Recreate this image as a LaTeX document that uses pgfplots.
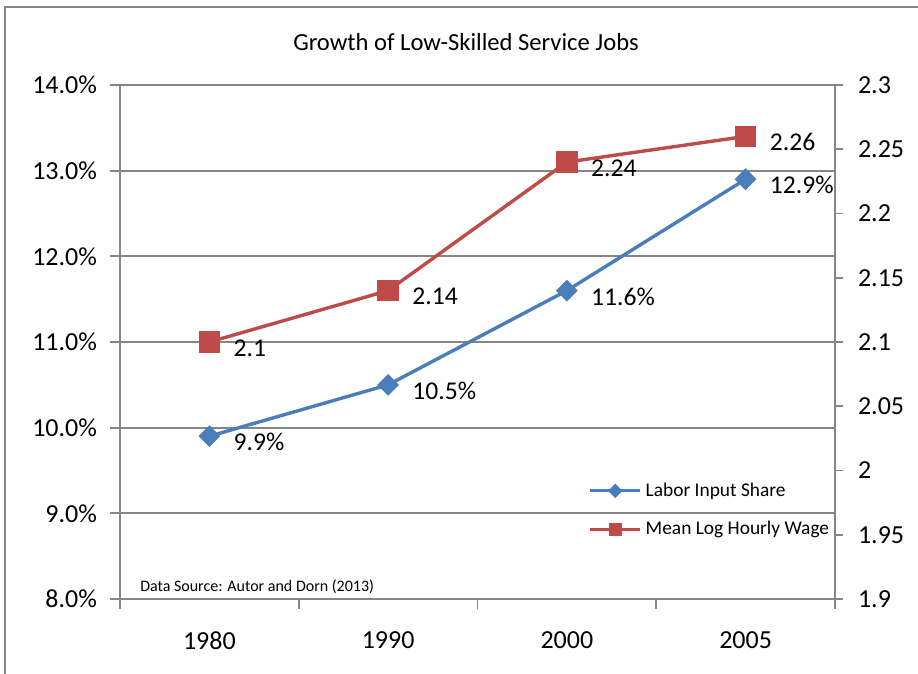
\documentclass[border=0pt]{standalone}
\usepackage{pgfplots}
\pgfplotsset{compat=1.18}
\usepackage{fontspec}
\setmainfont{Carlito}
\definecolor{gridgray}{HTML}{868686}
\definecolor{blueS}{HTML}{4A7EBB}
\definecolor{redS}{HTML}{BE4B48}
\begin{document}
\begin{tikzpicture}
\useasboundingbox (0,0) rectangle (459pt,337pt);
\draw[gridgray, line width=0.8pt] (2.5pt,0) -- (2.5pt,333.5pt) -- (459pt,333.5pt);
\node[font=\fontsize{12.3}{14}\selectfont] at (233pt,316pt) {Growth of Low-Skilled Service Jobs};
\begin{axis}[
  at={(60pt,37.5pt)}, anchor=south west, scale only axis,
  width=357.5pt, height=257pt,
  xmin=-0.5, xmax=3.5, ymin=8, ymax=14,
  axis x line*=bottom, axis y line*=left,
  axis line style={-, gridgray, line width=0.9pt},
  ytick={8,9,10,11,12,13,14},
  yticklabels={8.0\%,9.0\%,10.0\%,11.0\%,12.0\%,13.0\%,14.0\%},
  ymajorgrids, grid style={gridgray, line width=0.9pt},
  tick align=outside, major tick length=5pt, minor tick length=5pt,
  tick style={gridgray, line width=0.9pt},
  xtick={0,1,2,3}, xticklabels={1980,1990,2000,2005},
  major x tick style={draw=none},
  minor xtick={-0.5,0.5,1.5,2.5,3.5},
  ticklabel style={font=\fontsize{13}{15}\selectfont, text=black},
  xticklabel style={yshift=-8pt},
  yticklabel style={xshift=-3pt},
  clip=false,
]
\addplot[blueS, line width=1.7pt, mark=square*, mark size=3pt, mark options={rotate=45, fill=blueS},
  point meta=explicit symbolic, nodes near coords,
  nodes near coords style={anchor=west, xshift=8pt, yshift=-3pt, font=\fontsize{12.8}{14}\selectfont, text=black}]
  coordinates {(0,9.9) [9.9\%] (1,10.5) [10.5\%] (2,11.6) [11.6\%] (3,12.9) [12.9\%]};
\node[anchor=south west, font=\fontsize{8}{9}\selectfont, inner sep=1pt] at (rel axis cs:0.025,0.005) {Data Source: Autor and Dorn (2013)};
\end{axis}
\begin{axis}[
  at={(60pt,37.5pt)}, anchor=south west, scale only axis,
  width=357.5pt, height=257pt,
  xmin=-0.5, xmax=3.5, ymin=1.9, ymax=2.3,
  axis y line*=right, axis x line=none,
  axis line style={-, gridgray, line width=0.9pt},
  ytick={1.9,1.95,2,2.05,2.1,2.15,2.2,2.25,2.3},
  yticklabels={1.9,1.95,2,2.05,2.1,2.15,2.2,2.25,2.3},
  tick align=outside, major tick length=4pt,
  tick style={gridgray, line width=0.9pt},
  ticklabel style={font=\fontsize{13}{15}\selectfont, text=black},
  yticklabel style={xshift=4pt},
  clip=false,
  legend style={at={(0.655,0.235)}, anchor=north west, draw=none, fill=none,
    font=\fontsize{9.7}{11}\selectfont, row sep=7pt, inner sep=0pt},
  legend cell align=left,
  legend image code/.code={\draw[#1, line width=1.5pt, mark repeat=2, mark phase=2] plot coordinates {(0pt,0pt) (12.5pt,0pt) (25pt,0pt)};},
]
\addlegendimage{blueS, mark=square*, mark size=1.8pt, mark options={rotate=45, fill=blueS}}
\addlegendentry{Labor Input Share}
\addplot[redS, line width=1.7pt, mark=square*, mark size=4.5pt, mark options={fill=redS},
  point meta=explicit symbolic, nodes near coords,
  nodes near coords style={anchor=west, xshift=8pt, yshift=-3pt, font=\fontsize{12.8}{14}\selectfont, text=black},
  forget plot]
  coordinates {(0,2.1) [2.1] (1,2.14) [2.14] (2,2.24) [2.24] (3,2.26) [2.26]};
\addlegendimage{redS, mark=square*, mark size=2.5pt, mark options={fill=redS}}
\addlegendentry{Mean Log Hourly Wage}
\end{axis}
\end{tikzpicture}
\end{document}
